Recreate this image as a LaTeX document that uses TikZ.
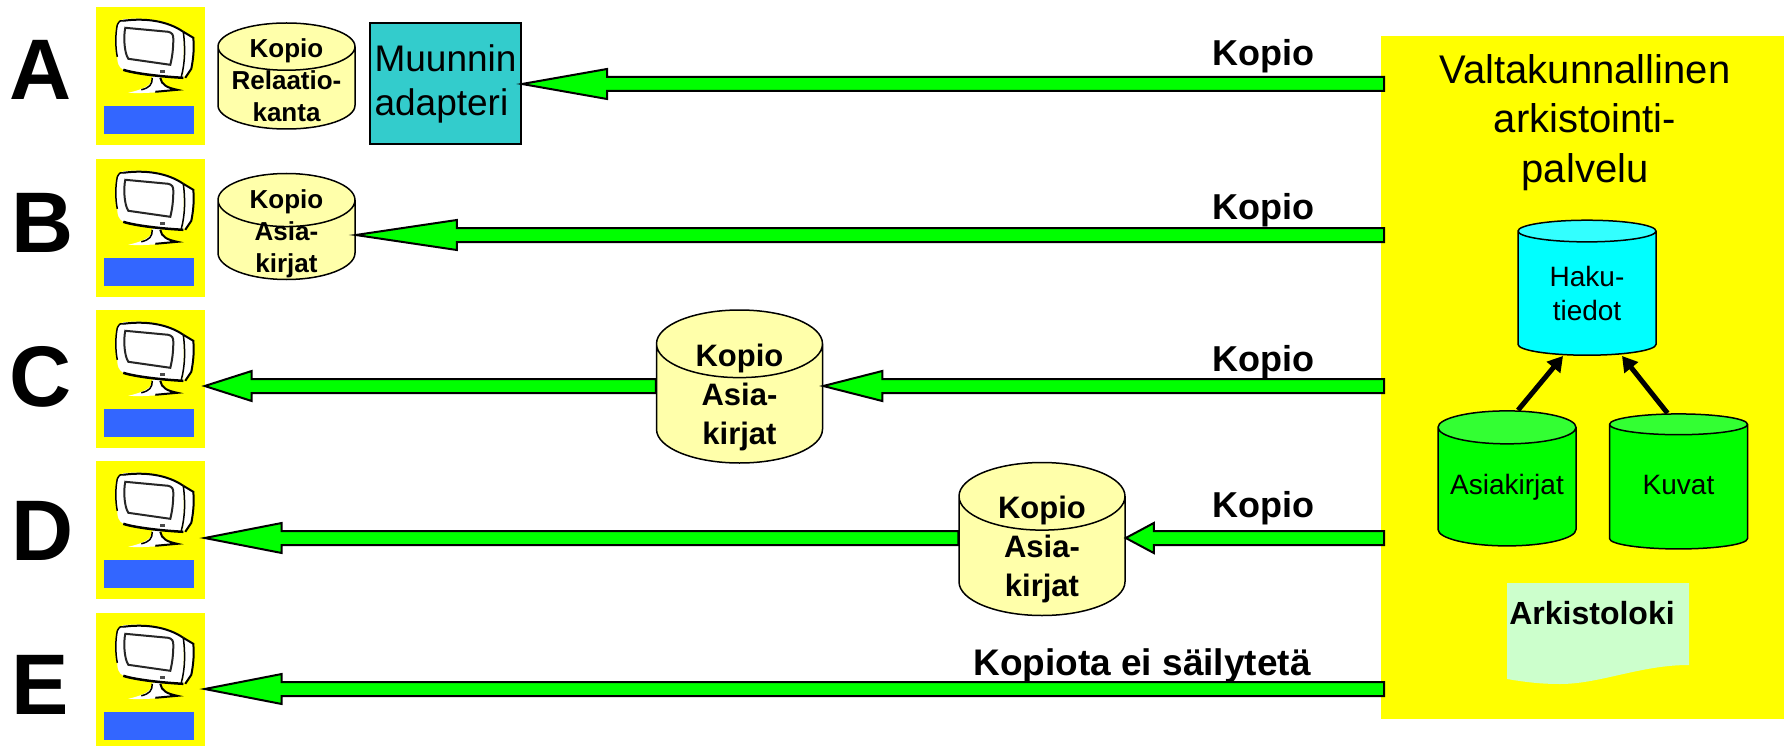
\documentclass[tikz,border=0pt]{standalone}
\usepackage{fontspec}
\setmainfont{Liberation Sans}
\usepackage{tikz}
\usetikzlibrary{calc,shapes.geometric,arrows.meta}
\definecolor{pgyellow}{HTML}{FFFF00}
\definecolor{pgblue}{HTML}{3366FF}
\definecolor{pggreen}{HTML}{00FF00}
\definecolor{pglime}{HTML}{33FF33}
\definecolor{pgcyan}{HTML}{00FFFF}
\definecolor{pgaqua}{HTML}{33FFFF}
\definecolor{pgteal}{HTML}{33CCCC}
\definecolor{pgcream}{HTML}{FFFFAA}
\definecolor{pgmint}{HTML}{CCFFCC}
\newcommand{\dbtext}[2]{\raisebox{#1}[0pt][0pt]{\begin{tabular}{@{}c@{}}#2\end{tabular}}}
\tikzstyle{rowletter}=[font=\fontsize{86}{90}\selectfont\bfseries,inner sep=0pt]
\tikzstyle{station}=[fill=pgyellow,minimum width=109pt,minimum height=138pt,inner sep=0pt]
\tikzstyle{kopiolabel}=[font=\fontsize{36}{40}\selectfont\bfseries,inner sep=0pt]
\tikzstyle{dbase}=[cylinder,shape border rotate=90,draw=black,line width=1.5pt,cylinder uses custom fill,align=center,inner sep=0pt]
\tikzstyle{copysmall}=[dbase,anchor=shape center,cylinder body fill=pgcream,cylinder end fill=pgcream,minimum width=137pt,minimum height=106pt,aspect=0.72,font=\fontsize{26}{32}\selectfont\bfseries]
\tikzstyle{copybig}=[dbase,anchor=shape center,cylinder body fill=pgcream,cylinder end fill=pgcream,minimum width=166pt,minimum height=153pt,aspect=0.77,font=\fontsize{31}{39}\selectfont\bfseries]
\tikzstyle{archivedb}=[dbase,minimum width=138pt,minimum height=135pt,aspect=0.29,font=\fontsize{28}{34}\selectfont]
\begin{document}
\begin{tikzpicture}[x=1pt,y=-1pt,
  blockarrow/.style={fill=pggreen,draw=black,line width=2pt,to path={let \p1=(\tikztostart),\p2=(\tikztotarget) in (\x1,\y1+7pt) -- (\x2+#1pt,\y1+7pt) -- (\x2+#1pt,\y1+15pt) -- (\x2,\y1) -- (\x2+#1pt,\y1-15pt) -- (\x2+#1pt,\y1-7pt) -- (\x1,\y1-7pt) -- cycle}},
  linkarrow/.style={line width=5pt,-{Triangle[length=15pt,width=17pt]}},
  monitor/.pic={
    \fill[pgblue] (9,99) rectangle (99,127);
    \fill[white] (57,70) .. controls (57,78) and (50,82) .. (33,86) .. controls (50,87) and (70,85) .. (82,83) .. controls (72,80) and (66,78) .. (65,70) -- cycle;
    \draw[black,line width=1.5pt] (57,71) .. controls (57,78) and (54,81) .. (46,83);
    \draw[black,line width=2pt] (65,71) .. controls (66,78) and (72,81) .. (82,83) -- (60,85);
    \fill[white] (88,25) -- (98,31) -- (97,60) -- (88,71) -- cycle;
    \draw[black,line width=2pt] (88,25) -- (98,31) .. controls (99,42) and (98,52) .. (96,62) -- (90,71);
    \fill[white] (22,18) .. controls (24,13) and (28,12) .. (33,12) .. controls (50,11) and (72,14) .. (88,25) -- (88,71) .. controls (68,70) and (40,66) .. (28,63) .. controls (23,60) and (22,56) .. (22,50) .. controls (20,40) and (20,28) .. (22,18) -- cycle;
    \draw[black,line width=2pt] (28,14) .. controls (50,11) and (72,14) .. (88,25);
    \draw[black,line width=1.5pt] (22,50) .. controls (20,40) and (20,28) .. (22,18) .. controls (24,14) and (26,13) .. (28,14);
    \draw[black,line width=2.5pt] (28,63) .. controls (40,67) and (68,70) .. (88,71);
    \draw[black,line width=1.5pt] (88,25) .. controls (90,40) and (90,55) .. (86,70);
    \draw[black!85,line width=2pt] (30,21) -- (73,25) .. controls (77,26) and (78,28) .. (78,32) .. controls (78,42) and (77,50) .. (75,58) -- (33,52) .. controls (29,46) and (28,30) .. (30,21) -- cycle;
    \fill[black!70] (65,63) rectangle (70,66);
  }]
\useasboundingbox (0,0) rectangle (1784,746);
% stations
\node (stA) at (150,76)[station] {};
\node (stB) at (150,228)[station] {};
\node (stC) at (150,379)[station] {};
\node (stD) at (150,530)[station] {};
\node (stE) at (150,682)[station] {};
\pic at (stA.north west) {monitor};
\pic at (stB.north west) {monitor};
\pic at (stC.north west) {monitor};
\pic at (stD.north west) {monitor};
\pic at (stE.north west) {monitor};
\node (letA) at (41,70)[rowletter] {A};
\node (letB) at (43,223)[rowletter] {B};
\node (letC) at (41,377)[rowletter] {C};
\node (letD) at (43,531)[rowletter] {D};
\node (letE) at (40,685)[rowletter] {E};

% archive service
\node (service) at (1582.5,377.5)[fill=pgyellow,minimum width=403pt,minimum height=683pt,inner sep=0pt] {};
\node (title) at (1585,122.5)[align=center,inner sep=0pt,font=\fontsize{40}{49.5}\selectfont] {Valtakunnallinen\\arkistointi-\\palvelu};
\node (haku) at (1587,293.5)[archivedb,cylinder body fill=pgcyan,cylinder end fill=pgaqua] {Haku-\\tiedot};
\node (asia) at (1507,487)[archivedb,cylinder body fill=pggreen,cylinder end fill=pglime] {\raisebox{5pt}{Asiakirjat}};
\node (kuvat) at (1678.5,487)[archivedb,cylinder body fill=pggreen,cylinder end fill=pglime] {\raisebox{5pt}{Kuvat}};
\draw[linkarrow] ([xshift=11pt]asia.north) -- ([xshift=-24pt]haku.south);
\draw[linkarrow] ([xshift=-11pt]kuvat.north) -- ([xshift=35pt]haku.south);
\fill[fill=pgmint] (1507,583) -- (1689,583) -- (1689,665) .. controls (1640,665) and (1600,684) .. (1560,684) .. controls (1540,684) and (1525,682) .. (1507,679) -- cycle;
\node (loki) at (1592,613)[inner sep=0pt,font=\fontsize{32}{36}\selectfont\bfseries] {Arkistoloki};

% copies
\node (muunnin) at (445.5,83.5)[draw=black,line width=2pt,fill=pgteal,minimum width=151pt,minimum height=121pt,inner sep=0pt,align=left,font=\fontsize{37}{44}\selectfont] {Muunnin\\adapteri};
\node (kopioA) at (286.5,76)[copysmall,aspect=0.43] {\dbtext{-1pt}{Kopio\\Relaatio-\\kanta}};
\node (kopioB) at (286.5,226.5)[copysmall] {\dbtext{0pt}{Kopio\\Asia-\\kirjat}};
\node (kopioC) at (739.5,386.5)[copybig] {\dbtext{0pt}{Kopio\\Asia-\\kirjat}};
\node (kopioD) at (1042,539)[copybig] {\dbtext{0pt}{Kopio\\Asia-\\kirjat}};

\coordinate (srcA) at (1384,84);
\coordinate (srcB) at (1384,235);
\coordinate (srcC) at (1384,386);
\coordinate (srcD) at (1384,538);
\coordinate (srcE) at (1384,689);

\draw[blockarrow=85] (srcA) to (muunnin.east |- srcA);
\draw[blockarrow=101] (srcB) to (kopioB.east |- srcB);
\draw[blockarrow=59] (srcC) to (kopioC.east |- srcC);
\draw[blockarrow=47] (kopioC.west |- srcC) to (stC.east |- srcC);
\draw[blockarrow=28] (srcD) to (kopioD.east |- srcD);
\draw[blockarrow=77] (kopioD.west |- srcD) to (stD.east |- srcD);
\draw[blockarrow=77] (srcE) to (stE.east |- srcE);

\node (labA) at (1263,56)[kopiolabel] {Kopio};
\node (labB) at (1263,210)[kopiolabel] {Kopio};
\node (labC) at (1263,362)[kopiolabel] {Kopio};
\node (labD) at (1263,508)[kopiolabel] {Kopio};
\node (labE) at (1142,666)[kopiolabel,font=\fontsize{37}{40}\selectfont\bfseries] {Kopiota ei säilytetä};
\end{tikzpicture}
\end{document}
